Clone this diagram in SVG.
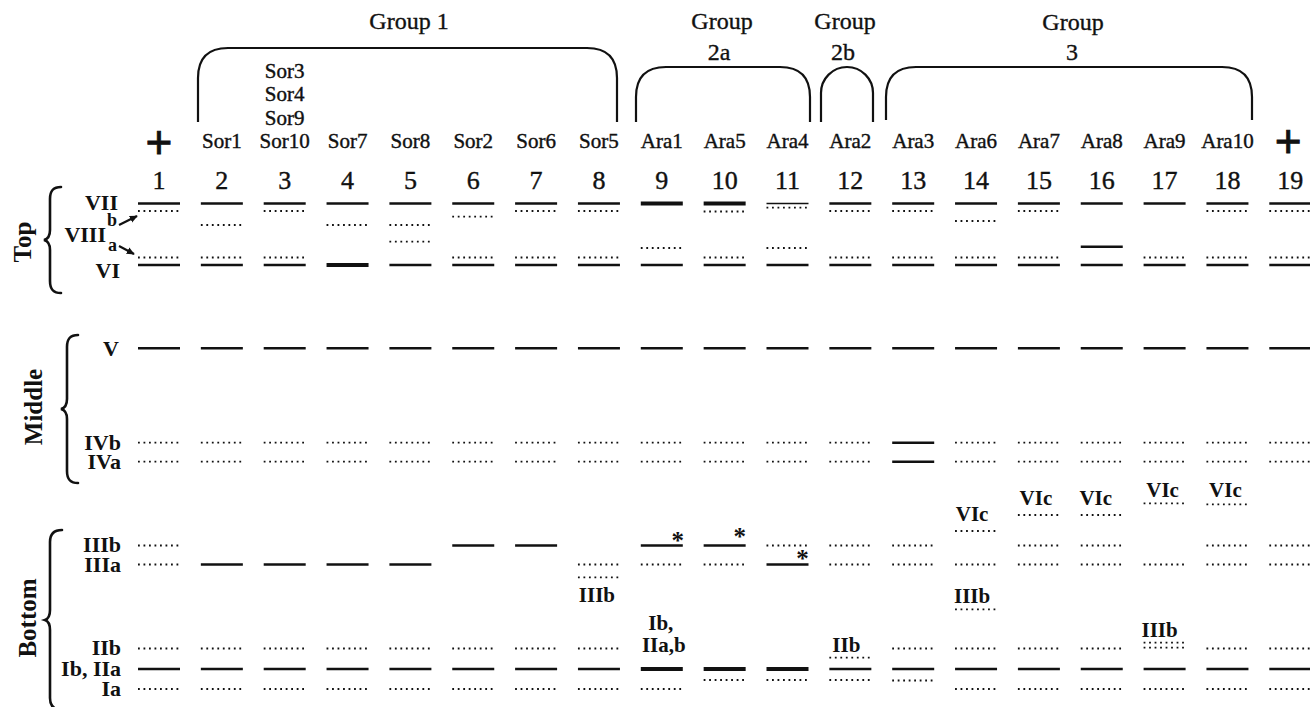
<svg xmlns="http://www.w3.org/2000/svg" width="1310" height="707" viewBox="0 0 1310 707">
<style>
text{font-family:"Liberation Serif","Times New Roman",serif;fill:#111}
.lab{font-size:21px;text-anchor:middle;stroke:#111;stroke-width:0.4}
.num{font-size:26px;text-anchor:middle;stroke:#111;stroke-width:0.4}
.grp{font-size:24px;text-anchor:middle;stroke:#111;stroke-width:0.35}
.rn{font-size:22px;font-weight:bold;text-anchor:end}
.sup{font-size:18px;font-weight:bold}
.bl{font-size:21px;font-weight:bold;text-anchor:middle}
.sec{font-size:25px;font-weight:bold;text-anchor:middle}
.plus{font-family:"Liberation Sans",Arial,sans-serif;font-size:46px;text-anchor:middle;stroke:#111;stroke-width:0.8}
.ast{font-size:25px;font-weight:bold;text-anchor:middle}
.s{stroke:#111;stroke-width:2.4;fill:none}
.k{stroke:#111;stroke-width:4;fill:none}
.t{stroke:#111;stroke-width:1.6;fill:none}
.d{stroke:#111;stroke-width:1.8;stroke-dasharray:1.8 3.7;fill:none}
.br{stroke:#111;stroke-width:2.2;fill:none}
.bc{stroke:#111;stroke-width:2.6;fill:none;stroke-linecap:round}
.ar{stroke:#111;stroke-width:2.2;fill:none}
</style>
<defs>
<line id="S" class="s" x1="-21" y1="0" x2="21" y2="0"/>
<line id="K" class="k" x1="-21" y1="0" x2="21" y2="0"/>
<line id="T" class="t" x1="-21" y1="0" x2="21" y2="0"/>
<line id="D" class="d" x1="-21" y1="0" x2="21" y2="0"/>
<marker id="ah" viewBox="0 0 10 10" refX="9" refY="5" markerWidth="8" markerHeight="8" markerUnits="userSpaceOnUse" orient="auto">
<path d="M0,0.5 L10,5 L0,9.5 z" fill="#111"/>
</marker>
</defs>

<g id="groups">
<text class="grp" x="409" y="29">Group 1</text>
<path class="br" d="M198,122 V78 Q198,48 228,48 H587 Q617,48 617,78 V122"/>
<text class="grp" x="722" y="29">Group</text>
<text class="grp" x="719" y="60">2a</text>
<path class="br" d="M636,122 V97 Q636,67 666,67 H780 Q810,67 810,97 V122"/>
<text class="grp" x="845" y="29">Group</text>
<text class="grp" x="843" y="60">2b</text>
<path class="br" d="M821,122 V93 A26,26 0 0 1 873,93 V122"/>
<text class="grp" x="1073" y="30">Group</text>
<text class="grp" x="1072" y="60">3</text>
<path class="br" d="M886,120 V97 Q886,67 916,67 H1222 Q1252,67 1252,97 V120"/>
</g>

<g id="sections">
<path class="bc" d="M61,187 C53,187 50,191 50,199 L50,230 C50,236 48,239 44,240 C48,241 50,244 50,250 L50,281 C50,289 53,293 61,293"/>
<text class="sec" transform="translate(31 242) rotate(-90)">Top</text>
<path class="bc" d="M78,335 C70,335 67,339 67,347 L67,399 C67,405 65,408 61,409 C65,410 67,413 67,419 L67,471 C67,479 70,483 78,483"/>
<text class="sec" transform="translate(42 407) rotate(-90)">Middle</text>
<path class="bc" d="M62,530 C54,530 50,534 50,542 L50,610 C50,616 48,619 45,620 C48,621 50,624 50,630 L50,698 C50,706 54,710 62,710"/>
<text class="sec" transform="translate(36 618) rotate(-90)">Bottom</text>
</g>

<g id="row-labels">
<text class="rn" x="118" y="210">VII</text>
<text class="rn" x="106" y="242">VIII</text>
<text class="sup" x="107" y="226">b</text>
<text class="sup" x="108" y="251">a</text>
<text class="rn" x="120" y="278">VI</text>
<text class="rn" x="119" y="356">V</text>
<text class="rn" x="121" y="450">IVb</text>
<text class="rn" x="121" y="469">IVa</text>
<text class="rn" x="121" y="552">IIIb</text>
<text class="rn" x="121" y="572">IIIa</text>
<text class="rn" x="121" y="655">IIb</text>
<text class="rn" x="121" y="676">Ib, IIa</text>
<text class="rn" x="121" y="696">Ia</text>
</g>

<g id="connectors">
<line class="ar" x1="119" y1="225" x2="137" y2="216" marker-end="url(#ah)"/>
<line class="ar" x1="119" y1="246" x2="134" y2="254" marker-end="url(#ah)"/>
</g>

<g id="lane1" transform="translate(159 0)">
<text class="plus" y="158">+</text>
<text class="num" y="189">1</text>
<use href="#S" y="203.5"/><use href="#D" y="211"/><use href="#D" y="257.5"/><use href="#S" y="265"/>
<use href="#S" y="348.3"/><use href="#D" y="442.7"/><use href="#D" y="461.7"/>
<use href="#D" y="545.5"/><use href="#D" y="564.5"/><use href="#D" y="648.5"/><use href="#S" y="669"/><use href="#D" y="689"/>
</g>

<g id="lane2" transform="translate(221.85 0)">
<text class="lab" y="148.3">Sor1</text>
<text class="num" y="189">2</text>
<use href="#S" y="203.5"/><use href="#D" y="225"/><use href="#D" y="257.5"/><use href="#S" y="265"/>
<use href="#S" y="348.3"/><use href="#D" y="442.7"/><use href="#D" y="461.7"/>
<use href="#S" y="564.5"/><use href="#D" y="648.5"/><use href="#S" y="669"/><use href="#D" y="689"/>
</g>

<g id="lane3" transform="translate(284.7 0)">
<text class="lab" y="77.7">Sor3</text>
<text class="lab" y="101.3">Sor4</text>
<text class="lab" y="124.8">Sor9</text>
<text class="lab" y="148.3">Sor10</text>
<text class="num" y="189">3</text>
<use href="#S" y="203.5"/><use href="#D" y="211"/><use href="#D" y="257.5"/><use href="#S" y="265"/>
<use href="#S" y="348.3"/><use href="#D" y="442.7"/><use href="#D" y="461.7"/>
<use href="#S" y="564.5"/><use href="#D" y="648.5"/><use href="#S" y="669"/><use href="#D" y="689"/>
</g>

<g id="lane4" transform="translate(347.55 0)">
<text class="lab" y="148.3">Sor7</text>
<text class="num" y="189">4</text>
<use href="#S" y="203.5"/><use href="#D" y="225"/><use href="#K" y="265"/>
<use href="#S" y="348.3"/><use href="#D" y="442.7"/><use href="#D" y="461.7"/>
<use href="#S" y="564.5"/><use href="#D" y="648.5"/><use href="#S" y="669"/><use href="#D" y="689"/>
</g>

<g id="lane5" transform="translate(410.4 0)">
<text class="lab" y="148.3">Sor8</text>
<text class="num" y="189">5</text>
<use href="#S" y="203.5"/><use href="#D" y="225"/><use href="#D" y="241.7"/><use href="#S" y="265"/>
<use href="#S" y="348.3"/><use href="#D" y="442.7"/><use href="#D" y="461.7"/>
<use href="#S" y="564.5"/><use href="#D" y="648.5"/><use href="#S" y="669"/><use href="#D" y="689"/>
</g>

<g id="lane6" transform="translate(473.25 0)">
<text class="lab" y="148.3">Sor2</text>
<text class="num" y="189">6</text>
<use href="#S" y="203.5"/><use href="#D" y="216.7"/><use href="#D" y="257.5"/><use href="#S" y="265"/>
<use href="#S" y="348.3"/><use href="#D" y="442.7"/><use href="#D" y="461.7"/>
<use href="#S" y="545.5"/><use href="#D" y="648.5"/><use href="#S" y="669"/><use href="#D" y="689"/>
</g>

<g id="lane7" transform="translate(536.1 0)">
<text class="lab" y="148.3">Sor6</text>
<text class="num" y="189">7</text>
<use href="#S" y="203.5"/><use href="#D" y="211"/><use href="#D" y="257.5"/><use href="#S" y="265"/>
<use href="#S" y="348.3"/><use href="#D" y="442.7"/><use href="#D" y="461.7"/>
<use href="#S" y="545.5"/><use href="#D" y="648.5"/><use href="#S" y="669"/><use href="#D" y="689"/>
</g>

<g id="lane8" transform="translate(598.95 0)">
<text class="lab" y="148.3">Sor5</text>
<text class="num" y="189">8</text>
<use href="#S" y="203.5"/><use href="#D" y="211"/><use href="#D" y="257.5"/><use href="#S" y="265"/>
<use href="#S" y="348.3"/><use href="#D" y="442.7"/><use href="#D" y="461.7"/>
<use href="#D" y="564.5"/><use href="#D" y="577.3"/>
<text class="bl" x="-2" y="602">IIIb</text>
<use href="#D" y="648.5"/><use href="#S" y="669"/><use href="#D" y="689"/>
</g>

<g id="lane9" transform="translate(661.8 0)">
<text class="lab" y="148.3">Ara1</text>
<text class="num" y="189">9</text>
<use href="#K" y="203.5"/><use href="#D" y="248"/><use href="#S" y="265"/>
<use href="#S" y="348.3"/><use href="#D" y="442.7"/><use href="#D" y="461.7"/>
<use href="#S" y="545.5"/><text class="ast" x="16" y="549">*</text>
<use href="#D" y="564.5"/>
<text class="bl" x="-1" y="630">Ib,</text>
<text class="bl" x="2" y="652">IIa,b</text>
<use href="#K" y="669"/><use href="#D" y="689"/>
</g>

<g id="lane10" transform="translate(724.65 0)">
<text class="lab" y="148.3">Ara5</text>
<text class="num" y="189">10</text>
<use href="#K" y="203.5"/><use href="#D" y="211.5"/><use href="#D" y="257.5"/><use href="#S" y="265"/>
<use href="#S" y="348.3"/><use href="#D" y="442.7"/><use href="#D" y="461.7"/>
<use href="#S" y="545.5"/><text class="ast" x="15" y="545">*</text>
<use href="#D" y="564.5"/>
<use href="#K" y="669"/><use href="#D" y="680"/>
</g>

<g id="lane11" transform="translate(787.5 0)">
<text class="lab" y="148.3">Ara4</text>
<text class="num" y="189">11</text>
<use href="#T" y="203.5"/><use href="#D" y="207.7"/><use href="#D" y="248"/><use href="#S" y="265"/>
<use href="#S" y="348.3"/><use href="#D" y="442.7"/><use href="#D" y="461.7"/>
<use href="#D" y="545.5"/>
<use href="#S" y="564.5"/><text class="ast" x="15" y="567">*</text>
<use href="#K" y="669"/><use href="#D" y="680"/>
</g>

<g id="lane12" transform="translate(850.35 0)">
<text class="lab" y="148.3">Ara2</text>
<text class="num" y="189">12</text>
<use href="#S" y="203.5"/><use href="#D" y="211"/><use href="#D" y="257.5"/><use href="#S" y="265"/>
<use href="#S" y="348.3"/><use href="#D" y="442.7"/><use href="#D" y="461.7"/>
<use href="#D" y="545.5"/><use href="#D" y="564.5"/>
<text class="bl" x="-4" y="652">IIb</text>
<use href="#D" y="657.7"/><use href="#S" y="669"/><use href="#D" y="680"/>
</g>

<g id="lane13" transform="translate(913.2 0)">
<text class="lab" y="148.3">Ara3</text>
<text class="num" y="189">13</text>
<use href="#S" y="203.5"/><use href="#D" y="211"/><use href="#D" y="257.5"/><use href="#S" y="265"/>
<use href="#S" y="348.3"/><use href="#S" y="442.7"/><use href="#S" y="461.7"/>
<use href="#D" y="545.5"/><use href="#D" y="564.5"/><use href="#D" y="648.5"/><use href="#S" y="669"/><use href="#D" y="680.5"/>
</g>

<g id="lane14" transform="translate(976.05 0)">
<text class="lab" y="148.3">Ara6</text>
<text class="num" y="189">14</text>
<use href="#S" y="203.5"/><use href="#D" y="221"/><use href="#D" y="257.5"/><use href="#S" y="265"/>
<use href="#S" y="348.3"/><use href="#D" y="442.7"/><use href="#D" y="461.7"/>
<text class="bl" x="-4" y="521">VIc</text>
<use href="#D" y="531"/><use href="#D" y="564.5"/>
<text class="bl" x="-4" y="603">IIIb</text>
<use href="#D" y="609.3"/>
<use href="#D" y="648.5"/><use href="#S" y="669"/><use href="#D" y="689"/>
</g>

<g id="lane15" transform="translate(1038.9 0)">
<text class="lab" y="148.3">Ara7</text>
<text class="num" y="189">15</text>
<use href="#S" y="203.5"/><use href="#D" y="211"/><use href="#D" y="257.5"/><use href="#S" y="265"/>
<use href="#S" y="348.3"/><use href="#D" y="442.7"/><use href="#D" y="461.7"/>
<text class="bl" x="-3" y="505">VIc</text>
<use href="#D" y="515"/><use href="#D" y="545.5"/><use href="#D" y="564.5"/>
<use href="#D" y="648.5"/><use href="#S" y="669"/><use href="#D" y="689"/>
</g>

<g id="lane16" transform="translate(1101.75 0)">
<text class="lab" y="148.3">Ara8</text>
<text class="num" y="189">16</text>
<use href="#S" y="203.5"/><use href="#S" y="246.7"/><use href="#S" y="265"/>
<use href="#S" y="348.3"/><use href="#D" y="442.7"/><use href="#D" y="461.7"/>
<text class="bl" x="-6" y="505">VIc</text>
<use href="#D" y="515"/><use href="#D" y="545.5"/><use href="#D" y="564.5"/>
<use href="#D" y="648.5"/><use href="#S" y="669"/><use href="#D" y="689"/>
</g>

<g id="lane17" transform="translate(1164.6 0)">
<text class="lab" y="148.3">Ara9</text>
<text class="num" y="189">17</text>
<use href="#S" y="203.5"/><use href="#D" y="257.5"/><use href="#S" y="265"/>
<use href="#S" y="348.3"/><use href="#D" y="442.7"/><use href="#D" y="461.7"/>
<text class="bl" x="-2" y="497">VIc</text>
<use href="#D" y="503.3"/><use href="#D" y="564.5"/>
<text class="bl" x="-5" y="637">IIIb</text>
<use href="#D" y="642.7"/><use href="#D" y="647.7"/>
<use href="#S" y="669"/><use href="#D" y="689"/>
</g>

<g id="lane18" transform="translate(1227.45 0)">
<text class="lab" y="148.3">Ara10</text>
<text class="num" y="189">18</text>
<use href="#S" y="203.5"/><use href="#D" y="211"/><use href="#D" y="257.5"/><use href="#S" y="265"/>
<use href="#S" y="348.3"/><use href="#D" y="442.7"/><use href="#D" y="461.7"/>
<text class="bl" x="-2" y="497">VIc</text>
<use href="#D" y="504.3"/><use href="#D" y="545.5"/><use href="#D" y="564.5"/>
<use href="#D" y="648.5"/><use href="#S" y="669"/><use href="#D" y="689"/>
</g>

<g id="lane19" transform="translate(1290.3 0)">
<text class="plus" x="-2" y="157">+</text>
<text class="num" y="189">19</text>
<use href="#S" y="203.5"/><use href="#D" y="211"/><use href="#D" y="257.5"/><use href="#S" y="265"/>
<use href="#S" y="348.3"/><use href="#D" y="442.7"/><use href="#D" y="461.7"/>
<use href="#D" y="545.5"/><use href="#D" y="564.5"/><use href="#D" y="648.5"/><use href="#S" y="669"/><use href="#D" y="689"/>
</g>
</svg>
